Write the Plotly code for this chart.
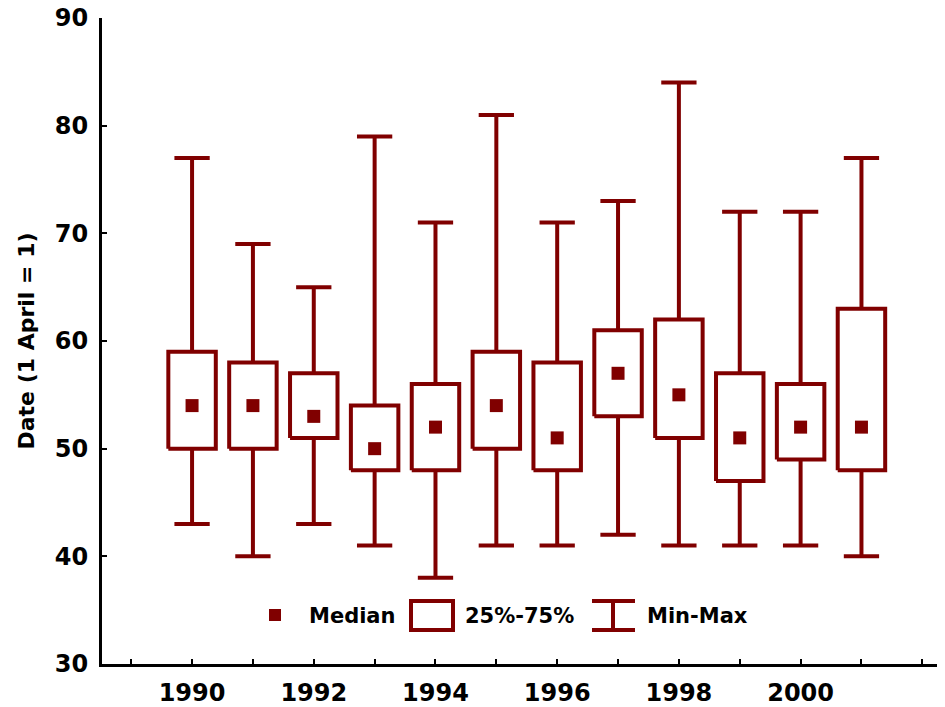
import plotly.graph_objects as go

years = [1990, 1991, 1992, 1993, 1994, 1995, 1996, 1997, 1998, 1999, 2000, 2001]
mins = [43, 40, 43, 41, 38, 41, 41, 42, 41, 41, 41, 40]
q1s = [50, 50, 51, 48, 48, 50, 48, 53, 51, 47, 49, 48]
medians = [54, 54, 53, 50, 52, 54, 51, 57, 55, 51, 52, 52]
q3s = [59, 58, 57, 54, 56, 59, 58, 61, 62, 57, 56, 63]
maxs = [77, 69, 65, 79, 71, 81, 71, 73, 84, 72, 72, 77]

tick_years = list(range(1989, 2003))
tick_labels = [str(y) if (y % 2 == 0 and y <= 2000) else "" for y in tick_years]
y_ticks = [30, 40, 50, 60, 70, 80, 90]

COLOR = "#800000"
BOX_HALF = 0.39
CAP_HALF = 0.29
LW = 4

# whisker segments
wx, wy = [], []
for x, lo, a, b, hi in zip(years, mins, q1s, q3s, maxs):
    wx += [x, x, None, x, x, None]
    wy += [lo, a, None, b, hi, None]
# caps
cx, cy = [], []
for x, lo, hi in zip(years, mins, maxs):
    cx += [x - CAP_HALF, x + CAP_HALF, None, x - CAP_HALF, x + CAP_HALF, None]
    cy += [lo, lo, None, hi, hi, None]
# boxes
bx, by = [], []
for x, a, b in zip(years, q1s, q3s):
    bx += [x - BOX_HALF, x + BOX_HALF, x + BOX_HALF, x - BOX_HALF, x - BOX_HALF, None]
    by += [a, a, b, b, a, None]

fig = go.Figure()
fig.add_trace(go.Scatter(x=wx, y=wy, mode="lines", line=dict(color=COLOR, width=LW),
                         hoverinfo="skip", showlegend=False))
fig.add_trace(go.Scatter(x=cx, y=cy, mode="lines", line=dict(color=COLOR, width=LW),
                         hoverinfo="skip", showlegend=False))
fig.add_trace(go.Scatter(x=bx, y=by, mode="lines", line=dict(color=COLOR, width=LW),
                         hoverinfo="skip", showlegend=False))
fig.add_trace(go.Scatter(x=years, y=medians, mode="markers",
                         marker=dict(symbol="square", size=13, color=COLOR, line=dict(width=0)),
                         showlegend=False))

# The page has an 8px body margin; figure is sized to fill the visible window.
OFF = 8
W, H = 945 - OFF, 707 - OFF
L, T, R, B = 102 - OFF, 18 - OFF, 2, 43
PW = W - L - R
PH = H - T - B

# manual legend (coords given in screenshot pixels)
def px(x):
    return (x - OFF - L) / PW

def py(y):
    return (H - B - (y - OFF)) / PH

shapes = []
shapes.append(dict(type="rect", xref="paper", yref="paper",
                   x0=px(269), x1=px(281), y0=py(609), y1=py(621),
                   fillcolor=COLOR, line=dict(width=0)))
shapes.append(dict(type="rect", xref="paper", yref="paper",
                   x0=px(411), x1=px(453), y0=py(601), y1=py(630),
                   line=dict(color=COLOR, width=LW), fillcolor="white"))
shapes.append(dict(type="line", xref="paper", yref="paper",
                   x0=px(613), x1=px(613), y0=py(601), y1=py(630),
                   line=dict(color=COLOR, width=LW)))
shapes.append(dict(type="line", xref="paper", yref="paper",
                   x0=px(592), x1=px(635), y0=py(601), y1=py(601),
                   line=dict(color=COLOR, width=LW)))
shapes.append(dict(type="line", xref="paper", yref="paper",
                   x0=px(592), x1=px(635), y0=py(630), y1=py(630),
                   line=dict(color=COLOR, width=LW)))

legend_font = dict(family="DejaVu Sans", size=21, color="black", weight="bold")
annotations = []
for text, xl in [("Median", 307), ("25%-75%", 463), ("Min-Max", 645)]:
    annotations.append(dict(text=text, xref="paper", yref="paper", x=px(xl), y=py(616),
                            xanchor="left", yanchor="middle", showarrow=False,
                            font=legend_font))

fig.update_layout(
    width=W, height=H,
    margin=dict(l=L, r=R, t=T, b=B, autoexpand=False),
    paper_bgcolor="white", plot_bgcolor="white",
    shapes=shapes, annotations=annotations,
    showlegend=False,
    font=dict(family="DejaVu Sans", color="black"),
)
fig.update_xaxes(
    range=[1988.52, 2002.34], automargin=False,
    tickmode="array", tickvals=tick_years, ticktext=tick_labels,
    ticks="inside", ticklen=5, tickwidth=2, tickcolor="black",
    showline=True, linecolor="black", linewidth=3,
    showgrid=False, zeroline=False, ticklabelstandoff=5,
    ticklabeloverflow="allow",
    tickfont=dict(family="DejaVu Sans", size=24, color="black", weight="bold"),
)
fig.update_yaxes(
    range=[30, 90], automargin=False,
    tickmode="array", tickvals=y_ticks, ticktext=[str(v) for v in y_ticks],
    ticks="inside", ticklen=5, tickwidth=2, tickcolor="black",
    showline=True, linecolor="black", linewidth=3,
    showgrid=False, zeroline=False, ticklabelstandoff=6,
    ticklabeloverflow="allow",
    tickfont=dict(family="DejaVu Sans", size=24, color="black", weight="bold"),
    title=dict(text="Date (1 April = 1)", standoff=15,
               font=dict(family="DejaVu Sans", size=22, color="black", weight="bold")),
)

fig.write_html("out.html")
